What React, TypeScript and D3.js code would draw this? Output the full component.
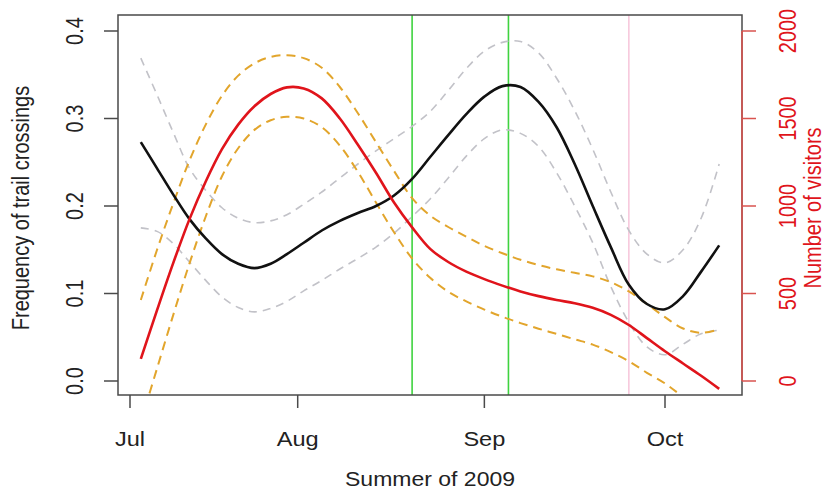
import React from "react";
import * as d3 from "d3";

// Days since 1 July 2009 at which the smoothed curves were sampled
const DAYS = [2, 5, 8, 11, 14, 17, 20, 23, 26, 29, 32, 35, 38, 41, 44, 47, 50, 53, 56, 59, 62, 65, 68, 71, 74, 77, 80, 83, 86, 89, 92, 95, 98, 101];

// Frequency of trail crossings (black) and its confidence band (grey dashed)
const FREQ = [0.273, 0.243, 0.213, 0.185, 0.163, 0.145, 0.134, 0.129, 0.134, 0.145, 0.158, 0.172, 0.183, 0.192, 0.2, 0.212, 0.231, 0.256, 0.281, 0.305, 0.325, 0.337, 0.336, 0.319, 0.29, 0.248, 0.2, 0.153, 0.11, 0.088, 0.082, 0.097, 0.125, 0.155];
const FREQ_UPPER = [0.369, 0.327, 0.284, 0.243, 0.218, 0.198, 0.186, 0.181, 0.183, 0.19, 0.202, 0.216, 0.232, 0.248, 0.263, 0.277, 0.291, 0.308, 0.332, 0.357, 0.377, 0.387, 0.388, 0.375, 0.346, 0.309, 0.265, 0.216, 0.172, 0.145, 0.135, 0.15, 0.186, 0.248];
const FREQ_LOWER = [0.175, 0.171, 0.157, 0.136, 0.115, 0.096, 0.084, 0.079, 0.083, 0.091, 0.103, 0.115, 0.128, 0.14, 0.153, 0.169, 0.188, 0.208, 0.232, 0.257, 0.277, 0.287, 0.283, 0.268, 0.238, 0.2, 0.158, 0.108, 0.067, 0.039, 0.03, 0.042, 0.054, 0.058];

// Number of visitors (red) and its confidence band (orange dashed)
const VISITORS = [126, 405, 675, 925, 1140, 1325, 1465, 1570, 1640, 1678, 1672, 1615, 1500, 1350, 1190, 1020, 878, 755, 680, 625, 582, 545, 512, 485, 463, 444, 418, 378, 320, 245, 170, 100, 30, -45];
const VIS_UPPER = [463, 750, 1015, 1260, 1465, 1630, 1745, 1815, 1852, 1862, 1845, 1790, 1680, 1530, 1365, 1200, 1045, 945, 880, 825, 772, 730, 693, 663, 638, 618, 598, 565, 512, 440, 365, 300, 275, 295];
const VIS_LOWER = [-234, 72, 378, 672, 940, 1170, 1330, 1435, 1490, 1510, 1500, 1450, 1345, 1195, 1020, 850, 700, 590, 510, 455, 408, 367, 331, 299, 269, 238, 208, 165, 113, 47, -14, -91, -166, -246];

// Event lines
const GREEN_EVENTS = ["2009-08-20", "2009-09-05"];
const PINK_EVENTS = ["2009-09-25"];

// Axis ticks
const MONTH_TICKS = ["2009-07-01", "2009-08-01", "2009-09-01", "2009-10-01"];
const MONTH_LABELS = ["Jul", "Aug", "Sep", "Oct"];
const FREQ_TICKS = [0, 0.1, 0.2, 0.3, 0.4];
const VIS_TICKS = [0, 500, 1000, 1500, 2000];

const W = 828;
const H = 491;
const PLOT = { left: 118, right: 742, top: 15, bottom: 395 };
const SX = 1.15; // horizontal stretch of the source image's text
const FONT = "'Liberation Sans', Arial, Helvetica, sans-serif";

const parse = d3.utcParse("%Y-%m-%d");
const base = parse("2009-07-01") as Date;
const dayToDate = (d: number) => new Date(base.getTime() + d * 86400000);

export default function App() {
  const x = d3
    .scaleUtc()
    .domain([parse("2009-07-01") as Date, parse("2009-08-01") as Date, parse("2009-10-01") as Date])
    .range([130, 297.7, 665]);
  const yL = d3.scaleLinear().domain([0, 0.4]).range([381, 31]);
  const yR = d3.scaleLinear().domain([0, 2000]).range([381, 31]);

  const mk = (vals: number[], y: d3.ScaleLinear<number, number>) =>
    d3
      .line<number>()
      .x((_, i) => x(dayToDate(DAYS[i])))
      .y((v) => y(v))
      .curve(d3.curveCatmullRom.alpha(0.5))(vals) as string;

  const rotText = (tx: number, ty: number, label: string, color: string, size = 20) => (
    <text
      transform={`translate(${tx},${ty}) scale(${SX},1) rotate(-90)`}
      textAnchor="middle"
      fontSize={size}
      fill={color}
      fontFamily={FONT}
    >
      {label}
    </text>
  );

  const red = "#e0141b";
  const redAxis = "#d9534f";

  return (
    <svg width={W} height={H} style={{ position: "absolute", left: 0, top: 0, background: "#fff" }}>
      <defs>
        <clipPath id="plotclip">
          <rect x={PLOT.left} y={PLOT.top} width={PLOT.right - PLOT.left} height={PLOT.bottom - PLOT.top} />
        </clipPath>
      </defs>
      <rect width={W} height={H} fill="#fff" />

      <g clipPath="url(#plotclip)">
        {GREEN_EVENTS.map((d) => (
          <line key={d} x1={x(parse(d) as Date)} x2={x(parse(d) as Date)} y1={PLOT.top} y2={PLOT.bottom} stroke="#3fd33f" strokeWidth={1.6} />
        ))}
        {PINK_EVENTS.map((d) => (
          <line key={d} x1={x(parse(d) as Date)} x2={x(parse(d) as Date)} y1={PLOT.top} y2={PLOT.bottom} stroke="#f5bcd4" strokeWidth={1.3} />
        ))}
        <path d={mk(FREQ_UPPER, yL)} fill="none" stroke="#c2c2c8" strokeWidth={1.6} strokeDasharray="8,6" />
        <path d={mk(FREQ_LOWER, yL)} fill="none" stroke="#c2c2c8" strokeWidth={1.6} strokeDasharray="8,6" />
        <path d={mk(VIS_UPPER, yR)} fill="none" stroke="#e2a52c" strokeWidth={2} strokeDasharray="9,6" />
        <path d={mk(VIS_LOWER, yR)} fill="none" stroke="#e2a52c" strokeWidth={2} strokeDasharray="9,6" />
        <path d={mk(FREQ, yL)} fill="none" stroke="#111" strokeWidth={2.6} />
        <path d={mk(VISITORS, yR)} fill="none" stroke={red} strokeWidth={2.6} />
      </g>

      {/* box */}
      <rect x={PLOT.left} y={PLOT.top} width={PLOT.right - PLOT.left} height={PLOT.bottom - PLOT.top} fill="none" stroke="#4a4a4a" strokeWidth={1.5} />

      {/* left axis */}
      {FREQ_TICKS.map((t) => (
        <g key={t}>
          <line x1={PLOT.left - 14} x2={PLOT.left} y1={yL(t)} y2={yL(t)} stroke="#4a4a4a" strokeWidth={1.5} />
          {rotText(83, yL(t), t.toFixed(1), "#222")}
        </g>
      ))}
      {rotText(29, 208, "Frequency of trail crossings", "#222")}

      {/* right axis */}
      <line x1={PLOT.right} x2={PLOT.right} y1={yR(0)} y2={yR(2000)} stroke={redAxis} strokeWidth={1.6} />
      {VIS_TICKS.map((t) => (
        <g key={t}>
          <line x1={PLOT.right} x2={PLOT.right + 14} y1={yR(t)} y2={yR(t)} stroke={redAxis} strokeWidth={1.5} />
          {rotText(796, yR(t), String(t), red)}
        </g>
      ))}
      {rotText(821, 208, "Number of visitors", red)}

      {/* bottom axis */}
      {MONTH_TICKS.map((m, i) => {
        const px = x(parse(m) as Date);
        return (
          <g key={m}>
            <line x1={px} x2={px} y1={PLOT.bottom} y2={PLOT.bottom + 13} stroke="#4a4a4a" strokeWidth={1.5} />
            <text transform={`translate(${px},446) scale(${SX},1)`} textAnchor="middle" fontSize={20.5} fill="#222" fontFamily={FONT}>
              {MONTH_LABELS[i]}
            </text>
          </g>
        );
      })}
      <text transform={`translate(430,486) scale(${SX},1)`} textAnchor="middle" fontSize={20} fill="#222" fontFamily={FONT}>
        Summer of 2009
      </text>
    </svg>
  );
}
